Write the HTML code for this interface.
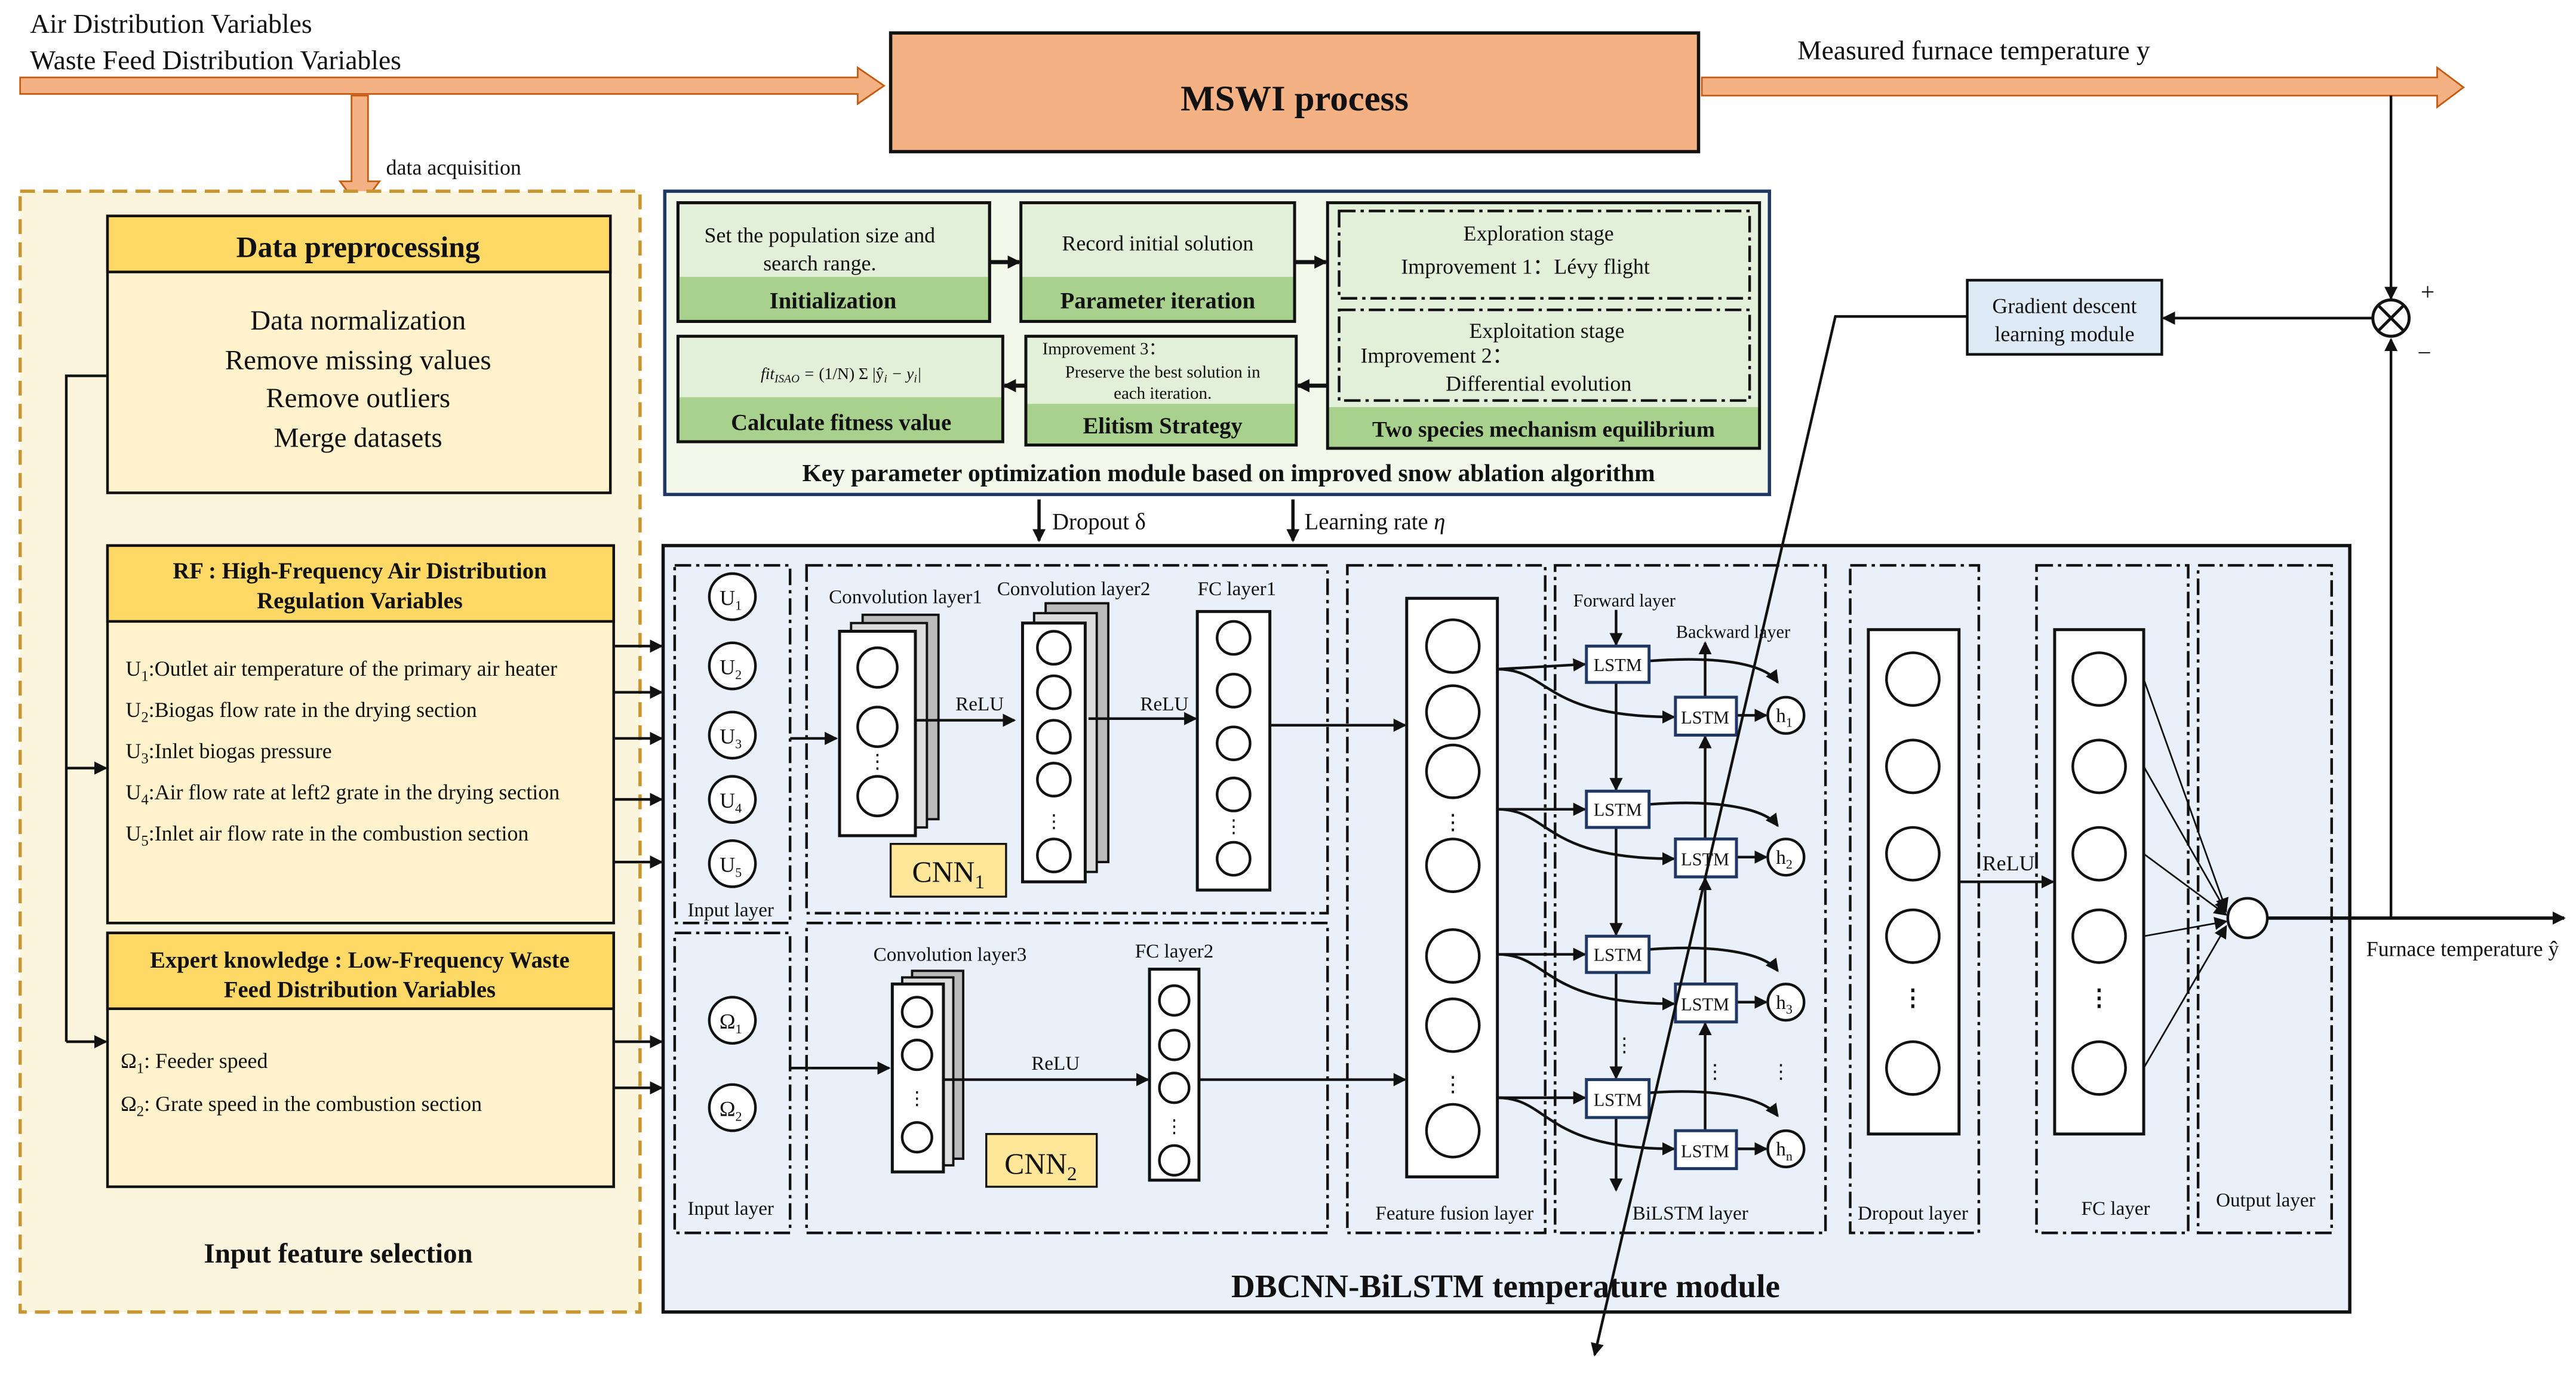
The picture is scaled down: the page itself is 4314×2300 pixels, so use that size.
<!DOCTYPE html>
<html><head><meta charset="utf-8"><style>
html,body{margin:0;padding:0;background:#fff;}
svg{display:block;}
text{font-family:"Liberation Serif",serif;fill:#111;}
.b{font-weight:bold;}
.dd{fill:none;stroke:#111;stroke-width:1.6;stroke-dasharray:10 3 2 3;}
.ln{stroke:#111;stroke-width:1.6;fill:none;}
.c{fill:#fff;stroke:#111;stroke-width:1.6;}
.ls{fill:#fff;stroke:#1f3864;stroke-width:1.8;}
</style></head><body>
<svg width="4314" height="2300" viewBox="0 0 1562 833" xmlns="http://www.w3.org/2000/svg">
<defs>
<marker id="a" markerWidth="8" markerHeight="8" refX="7" refY="4" orient="auto" markerUnits="userSpaceOnUse"><path d="M0,0 L8,4 L0,8 z" fill="#111"/></marker>
</defs>
<rect width="1562" height="833" fill="#fff"/>
<!-- top -->
<text x="18" y="20" font-size="16.5">Air Distribution Variables</text>
<text x="18" y="42" font-size="16.5">Waste Feed Distribution Variables</text>
<path d="M12,47 L520,47 L520,41 L536,52 L520,63 L520,57 L12,57 z" fill="#f4b183" stroke="#c55a11" stroke-width="1"/>
<rect x="540" y="20" width="490" height="72" fill="#f4b183" stroke="#111" stroke-width="2"/>
<text x="785" y="67" font-size="22" class="b" text-anchor="middle">MSWI process</text>
<path d="M1032,47 L1478,47 L1478,41 L1494,53 L1478,65 L1478,58 L1032,58 z" fill="#f4b183" stroke="#c55a11" stroke-width="1"/>
<text x="1090" y="36" font-size="16.5">Measured furnace temperature y</text>
<path d="M213,58 L223,58 L223,110 L230,110 L218,126 L206,110 L213,110 z" fill="#f4b183" stroke="#c55a11" stroke-width="1"/>
<text x="234" y="106" font-size="13">data acquisition</text>
<!-- left panel -->
<rect x="12" y="116" width="376" height="680" fill="#fbf5de" stroke="#c8952e" stroke-width="2" stroke-dasharray="9 5"/>
<rect x="65" y="131" width="305" height="168" fill="#fff2cc" stroke="#111" stroke-width="1.6"/>
<rect x="65" y="131" width="305" height="34" fill="#ffd966" stroke="#111" stroke-width="1.6"/>
<text x="217" y="156" font-size="18" class="b" text-anchor="middle">Data preprocessing</text>
<g font-size="17" text-anchor="middle"><text x="217" y="200">Data normalization</text><text x="217" y="224">Remove missing values</text><text x="217" y="247">Remove outliers</text><text x="217" y="271">Merge datasets</text></g>
<rect x="65" y="331" width="307" height="229" fill="#fff2cc" stroke="#111" stroke-width="1.6"/>
<rect x="65" y="331" width="307" height="46" fill="#ffd966" stroke="#111" stroke-width="1.6"/>
<text x="218" y="351" font-size="14" class="b" text-anchor="middle">RF : High-Frequency Air Distribution</text>
<text x="218" y="369" font-size="14" class="b" text-anchor="middle">Regulation Variables</text>
<g font-size="13"><text x="76" y="410">U<tspan font-size="9" dy="3">1</tspan><tspan dy="-3">:Outlet air temperature of the primary air heater</tspan></text>
<text x="76" y="435">U<tspan font-size="9" dy="3">2</tspan><tspan dy="-3">:Biogas flow rate in the drying section</tspan></text>
<text x="76" y="460">U<tspan font-size="9" dy="3">3</tspan><tspan dy="-3">:Inlet biogas pressure</tspan></text>
<text x="76" y="485">U<tspan font-size="9" dy="3">4</tspan><tspan dy="-3">:Air flow rate at left2 grate in the drying section</tspan></text>
<text x="76" y="510">U<tspan font-size="9" dy="3">5</tspan><tspan dy="-3">:Inlet air flow rate in the combustion section</tspan></text></g>
<rect x="65" y="566" width="307" height="154" fill="#fff2cc" stroke="#111" stroke-width="1.6"/>
<rect x="65" y="566" width="307" height="46" fill="#ffd966" stroke="#111" stroke-width="1.6"/>
<text x="218" y="587" font-size="14" class="b" text-anchor="middle">Expert knowledge : Low-Frequency Waste</text>
<text x="218" y="605" font-size="14" class="b" text-anchor="middle">Feed Distribution Variables</text>
<text x="73" y="648" font-size="13">Ω<tspan font-size="9" dy="3">1</tspan><tspan dy="-3">: Feeder speed</tspan></text>
<text x="73" y="674" font-size="13">Ω<tspan font-size="9" dy="3">2</tspan><tspan dy="-3">: Grate speed in the combustion section</tspan></text>
<text x="205" y="766" font-size="17" class="b" text-anchor="middle">Input feature selection</text>
<path class="ln" d="M65,228 L40,228 L40,632"/>
<line class="ln" x1="40" y1="466" x2="64" y2="466" marker-end="url(#a)"/>
<line class="ln" x1="40" y1="632" x2="64" y2="632" marker-end="url(#a)"/>
<g class="ln" marker-end="url(#a)">
<line x1="372" y1="392" x2="401" y2="392"/><line x1="372" y1="420" x2="401" y2="420"/><line x1="372" y1="448" x2="401" y2="448"/><line x1="372" y1="485" x2="401" y2="485"/><line x1="372" y1="523" x2="401" y2="523"/>
<line x1="372" y1="632" x2="401" y2="632"/><line x1="372" y1="660" x2="401" y2="660"/></g>
<!-- optimization -->
<rect x="403" y="116" width="670" height="184" fill="#f3f8ea" stroke="#1f3864" stroke-width="2"/>
<rect x="411" y="123" width="189" height="72" fill="#e2efd9" stroke="#111" stroke-width="1.8"/>
<rect x="411" y="168" width="189" height="27" fill="#a9d18e"/>
<rect x="411" y="123" width="189" height="72" fill="none" stroke="#111" stroke-width="1.8"/>
<text x="497" y="147" font-size="13" text-anchor="middle">Set the population size and</text>
<text x="497" y="164" font-size="13" text-anchor="middle">search range.</text>
<text x="505" y="187" font-size="14" class="b" text-anchor="middle">Initialization</text>
<rect x="619" y="123" width="166" height="72" fill="#e2efd9"/>
<rect x="619" y="168" width="166" height="27" fill="#a9d18e"/>
<rect x="619" y="123" width="166" height="72" fill="none" stroke="#111" stroke-width="1.8"/>
<text x="702" y="152" font-size="13" text-anchor="middle">Record initial solution</text>
<text x="702" y="187" font-size="14" class="b" text-anchor="middle">Parameter iteration</text>
<rect x="805" y="123" width="262" height="149" fill="#e2efd9"/>
<rect x="805" y="247" width="262" height="25" fill="#a9d18e"/>
<rect x="805" y="123" width="262" height="149" fill="none" stroke="#111" stroke-width="1.8"/>
<rect x="812" y="128" width="249" height="53" class="dd"/>
<rect x="812" y="188" width="249" height="55" class="dd"/>
<text x="933" y="146" font-size="13" text-anchor="middle">Exploration stage</text>
<text x="925" y="166" font-size="13" text-anchor="middle">Improvement 1：Lévy flight</text>
<text x="938" y="205" font-size="13" text-anchor="middle">Exploitation stage</text>
<text x="825" y="220" font-size="13">Improvement 2：</text>
<text x="933" y="237" font-size="13" text-anchor="middle">Differential evolution</text>
<text x="936" y="265" font-size="13.5" class="b" text-anchor="middle">Two species mechanism equilibrium</text>
<rect x="411" y="204" width="197" height="64" fill="#e2efd9"/>
<rect x="411" y="241" width="197" height="27" fill="#a9d18e"/>
<rect x="411" y="204" width="197" height="64" fill="none" stroke="#111" stroke-width="1.8"/>
<text x="510" y="230" font-size="10" text-anchor="middle" font-style="italic">fit<tspan font-size="7" dy="2">ISAO</tspan><tspan dy="-2"> = </tspan><tspan font-style="normal">(1/N) Σ |ŷ</tspan><tspan font-size="7" dy="2">i</tspan><tspan dy="-2"> − y</tspan><tspan font-size="7" dy="2">i</tspan><tspan dy="-2">|</tspan></text>
<text x="510" y="261" font-size="14" class="b" text-anchor="middle">Calculate fitness value</text>
<rect x="622" y="204" width="164" height="66" fill="#e2efd9"/>
<rect x="622" y="245" width="164" height="25" fill="#a9d18e"/>
<rect x="622" y="204" width="164" height="66" fill="none" stroke="#111" stroke-width="1.8"/>
<text x="632" y="215" font-size="10.5">Improvement 3：</text>
<text x="705" y="229" font-size="10.5" text-anchor="middle">Preserve the best solution in</text>
<text x="705" y="242" font-size="10.5" text-anchor="middle">each iteration.</text>
<text x="705" y="263" font-size="14" class="b" text-anchor="middle">Elitism Strategy</text>
<g stroke="#111" stroke-width="2.5" marker-end="url(#a)"><line x1="600" y1="159" x2="618" y2="159"/><line x1="785" y1="159" x2="804" y2="159"/><line x1="805" y1="234" x2="787" y2="234"/><line x1="622" y1="234" x2="609" y2="234"/></g>
<text x="745" y="292" font-size="15" class="b" text-anchor="middle">Key parameter optimization module based on improved snow ablation algorithm</text>
<g stroke="#111" stroke-width="2" marker-end="url(#a)"><line x1="630" y1="303" x2="630" y2="328"/><line x1="784" y1="303" x2="784" y2="328"/></g>
<text x="638" y="321" font-size="14">Dropout δ</text>
<text x="791" y="321" font-size="14">Learning rate <tspan font-style="italic">η</tspan></text>
<!-- DBCNN module -->
<rect x="402" y="331" width="1023" height="465" fill="#e9f0f9" stroke="#111" stroke-width="2"/>
<text x="913" y="787" font-size="20" class="b" text-anchor="middle">DBCNN-BiLSTM temperature module</text>
<rect x="409" y="343" width="70" height="217" class="dd"/>
<rect x="409" y="566" width="70" height="182" class="dd"/>
<rect x="489" y="343" width="316" height="211" class="dd"/>
<rect x="489" y="560" width="316" height="188" class="dd"/>
<rect x="817" y="343" width="120" height="405" class="dd"/>
<rect x="943" y="343" width="164" height="405" class="dd"/>
<rect x="1122" y="343" width="78" height="405" class="dd"/>
<rect x="1235" y="343" width="92" height="405" class="dd"/>
<rect x="1333" y="343" width="81" height="405" class="dd"/>
<!-- inputs -->
<g class="c"><circle cx="444" cy="362" r="14"/><circle cx="444" cy="404" r="14"/><circle cx="444" cy="446" r="14"/><circle cx="444" cy="485" r="14"/><circle cx="444" cy="524" r="14"/><circle cx="444" cy="619" r="14"/><circle cx="444" cy="672" r="14"/></g>
<g font-size="13" text-anchor="middle">
<text x="443" y="367">U<tspan font-size="8" dy="3">1</tspan></text><text x="443" y="409">U<tspan font-size="8" dy="3">2</tspan></text><text x="443" y="451">U<tspan font-size="8" dy="3">3</tspan></text><text x="443" y="490">U<tspan font-size="8" dy="3">4</tspan></text><text x="443" y="529">U<tspan font-size="8" dy="3">5</tspan></text>
<text x="443" y="624">Ω<tspan font-size="8" dy="3">1</tspan></text><text x="443" y="677">Ω<tspan font-size="8" dy="3">2</tspan></text></g>
<text x="443" y="556" font-size="12" text-anchor="middle">Input layer</text>
<text x="443" y="737" font-size="12" text-anchor="middle">Input layer</text>
<!-- CNN1 -->
<text x="549" y="366" font-size="12" text-anchor="middle">Convolution layer1</text>
<text x="651" y="361" font-size="12" text-anchor="middle">Convolution layer2</text>
<text x="750" y="361" font-size="12" text-anchor="middle">FC layer1</text>
<rect x="523" y="373" width="46" height="124" fill="#bbb" stroke="#111" stroke-width="1.4"/>
<rect x="516" y="378" width="46" height="124" fill="#ddd" stroke="#111" stroke-width="1.4"/>
<rect x="509" y="383" width="46" height="124" fill="#fff" stroke="#111" stroke-width="1.8"/>
<g class="c"><circle cx="532" cy="405" r="12"/><circle cx="532" cy="441" r="12"/><circle cx="532" cy="483" r="12"/></g>
<text x="532" y="466" font-size="12" text-anchor="middle">⋮</text>
<line class="ln" x1="479" y1="448" x2="507" y2="448" marker-end="url(#a)"/>
<line class="ln" x1="555" y1="437" x2="615" y2="437" marker-end="url(#a)"/>
<text x="594" y="431" font-size="12" text-anchor="middle">ReLU</text>
<rect x="634" y="366" width="38" height="157" fill="#bbb" stroke="#111" stroke-width="1.4"/>
<rect x="627" y="372" width="38" height="157" fill="#ddd" stroke="#111" stroke-width="1.4"/>
<rect x="620" y="378" width="38" height="157" fill="#fff" stroke="#111" stroke-width="1.8"/>
<g class="c"><circle cx="639" cy="393" r="10"/><circle cx="639" cy="420" r="10"/><circle cx="639" cy="447" r="10"/><circle cx="639" cy="473" r="10"/><circle cx="639" cy="519" r="10"/></g>
<text x="639" y="502" font-size="11" text-anchor="middle">⋮</text>
<line class="ln" x1="660" y1="436" x2="725" y2="436" marker-end="url(#a)"/>
<text x="706" y="431" font-size="12" text-anchor="middle">ReLU</text>
<rect x="726" y="371" width="44" height="169" fill="#fff" stroke="#111" stroke-width="1.8"/>
<g class="c"><circle cx="748" cy="387" r="10"/><circle cx="748" cy="419" r="10"/><circle cx="748" cy="451" r="10"/><circle cx="748" cy="482" r="10"/><circle cx="748" cy="521" r="10"/></g>
<text x="748" y="505" font-size="11" text-anchor="middle">⋮</text>
<rect x="540" y="512" width="70" height="32" fill="#ffe699" stroke="#111" stroke-width="1.2"/>
<text x="575" y="535" font-size="18" text-anchor="middle">CNN<tspan font-size="12" dy="4">1</tspan></text>
<line class="ln" x1="770" y1="440" x2="852" y2="440" marker-end="url(#a)"/>
<!-- CNN2 -->
<text x="576" y="583" font-size="12" text-anchor="middle">Convolution layer3</text>
<text x="712" y="581" font-size="12" text-anchor="middle">FC layer2</text>
<rect x="553" y="589" width="31" height="114" fill="#bbb" stroke="#111" stroke-width="1.4"/>
<rect x="547" y="593" width="31" height="114" fill="#ddd" stroke="#111" stroke-width="1.4"/>
<rect x="541" y="597" width="31" height="114" fill="#fff" stroke="#111" stroke-width="1.8"/>
<g class="c"><circle cx="556" cy="614" r="9"/><circle cx="556" cy="640" r="9"/><circle cx="556" cy="690" r="9"/></g>
<text x="556" y="670" font-size="11" text-anchor="middle">⋮</text>
<line class="ln" x1="479" y1="648" x2="539" y2="648" marker-end="url(#a)"/>
<line class="ln" x1="572" y1="655" x2="696" y2="655" marker-end="url(#a)"/>
<text x="640" y="649" font-size="12" text-anchor="middle">ReLU</text>
<rect x="697" y="588" width="30" height="128" fill="#fff" stroke="#111" stroke-width="1.8"/>
<g class="c"><circle cx="712" cy="607" r="9"/><circle cx="712" cy="634" r="9"/><circle cx="712" cy="660" r="9"/><circle cx="712" cy="704" r="9"/></g>
<text x="712" y="687" font-size="11" text-anchor="middle">⋮</text>
<rect x="598" y="688" width="67" height="32" fill="#ffe699" stroke="#111" stroke-width="1.2"/>
<text x="631" y="712" font-size="18" text-anchor="middle">CNN<tspan font-size="12" dy="4">2</tspan></text>
<line class="ln" x1="727" y1="655" x2="852" y2="655" marker-end="url(#a)"/>
<!-- fusion -->
<rect x="853" y="363" width="55" height="351" fill="#fff" stroke="#111" stroke-width="1.8"/>
<g class="c"><circle cx="881" cy="392" r="16"/><circle cx="881" cy="432" r="16"/><circle cx="881" cy="468" r="16"/><circle cx="881" cy="525" r="16"/><circle cx="881" cy="580" r="16"/><circle cx="881" cy="622" r="16"/><circle cx="881" cy="686" r="16"/></g>
<text x="881" y="503" font-size="13" text-anchor="middle">⋮</text><text x="881" y="662" font-size="13" text-anchor="middle">⋮</text>
<text x="882" y="740" font-size="12" text-anchor="middle">Feature fusion layer</text>
<!-- BiLSTM -->
<text x="985" y="368" font-size="11" text-anchor="middle">Forward layer</text>
<text x="1051" y="387" font-size="11" text-anchor="middle">Backward layer</text>
<text x="1025" y="740" font-size="12" text-anchor="middle">BiLSTM layer</text>
<g class="ln" marker-end="url(#a)">
<line x1="980" y1="370" x2="980" y2="391"/>
<line x1="980" y1="414" x2="980" y2="479"/><line x1="980" y1="502" x2="980" y2="567"/><line x1="980" y1="590" x2="980" y2="654"/><line x1="980" y1="678" x2="980" y2="722"/>
<line x1="1034" y1="686" x2="1034" y2="621"/><line x1="1034" y1="597" x2="1034" y2="533"/><line x1="1034" y1="509" x2="1034" y2="447"/><line x1="1034" y1="423" x2="1034" y2="390"/>
<line x1="908" y1="406" x2="961" y2="403"/><line x1="908" y1="491" x2="961" y2="491"/><line x1="908" y1="579" x2="961" y2="579"/><line x1="908" y1="666" x2="961" y2="666"/>
<path d="M908,406 C940,406 935,435 1015,435"/><path d="M908,491 C940,491 935,521 1015,521"/><path d="M908,579 C940,579 935,609 1015,609"/><path d="M908,666 C940,666 935,697 1015,697"/>
<path d="M1000,401 C1040,398 1070,402 1078,414"/><path d="M1000,488 C1040,485 1070,490 1078,501"/><path d="M1000,576 C1040,573 1070,578 1078,589"/><path d="M1000,663 C1040,660 1070,666 1078,677"/>
<line x1="1053" y1="434" x2="1071" y2="434"/><line x1="1053" y1="520" x2="1071" y2="520"/><line x1="1053" y1="608" x2="1071" y2="608"/><line x1="1053" y1="697" x2="1071" y2="697"/>
</g>
<g class="ls"><rect x="962" y="392" width="38" height="22"/><rect x="962" y="480" width="38" height="22"/><rect x="962" y="568" width="38" height="22"/><rect x="962" y="655" width="38" height="23"/>
<rect x="1016" y="423" width="37" height="23"/><rect x="1016" y="509" width="37" height="23"/><rect x="1016" y="597" width="37" height="23"/><rect x="1016" y="686" width="37" height="23"/></g>
<g font-size="11" text-anchor="middle"><text x="981" y="407">LSTM</text><text x="981" y="495">LSTM</text><text x="981" y="583">LSTM</text><text x="981" y="671">LSTM</text>
<text x="1034" y="439">LSTM</text><text x="1034" y="525">LSTM</text><text x="1034" y="613">LSTM</text><text x="1034" y="702">LSTM</text></g>
<g class="c"><circle cx="1083" cy="434" r="11"/><circle cx="1083" cy="520" r="11"/><circle cx="1083" cy="608" r="11"/><circle cx="1083" cy="697" r="11"/></g>
<g font-size="12" text-anchor="middle"><text x="1082" y="438">h<tspan font-size="8" dy="3">1</tspan></text><text x="1082" y="524">h<tspan font-size="8" dy="3">2</tspan></text><text x="1082" y="612">h<tspan font-size="8" dy="3">3</tspan></text><text x="1082" y="701">h<tspan font-size="8" dy="3">n</tspan></text></g>
<g font-size="12" text-anchor="middle"><text x="985" y="638">⋮</text><text x="1040" y="654">⋮</text><text x="1080" y="654">⋮</text></g>
<!-- dropout / FC -->
<rect x="1133" y="382" width="55" height="306" fill="#fff" stroke="#111" stroke-width="1.8"/>
<g class="c"><circle cx="1160" cy="412" r="16"/><circle cx="1160" cy="465" r="16"/><circle cx="1160" cy="518" r="16"/><circle cx="1160" cy="568" r="16"/><circle cx="1160" cy="648" r="16"/></g>
<text x="1160" y="610" font-size="14" class="b" text-anchor="middle">⋮</text>
<text x="1160" y="740" font-size="12" text-anchor="middle">Dropout layer</text>
<line class="ln" x1="1188" y1="535" x2="1245" y2="535" marker-end="url(#a)"/>
<text x="1218" y="528" font-size="13" text-anchor="middle">ReLU</text>
<rect x="1246" y="382" width="54" height="306" fill="#fff" stroke="#111" stroke-width="1.8"/>
<g class="c"><circle cx="1273" cy="412" r="16"/><circle cx="1273" cy="465" r="16"/><circle cx="1273" cy="518" r="16"/><circle cx="1273" cy="568" r="16"/><circle cx="1273" cy="648" r="16"/></g>
<text x="1273" y="610" font-size="14" class="b" text-anchor="middle">⋮</text>
<text x="1283" y="737" font-size="12" text-anchor="middle">FC layer</text>
<text x="1374" y="732" font-size="12" text-anchor="middle">Output layer</text>
<g stroke="#111" stroke-width="1" marker-end="url(#a)"><line x1="1300" y1="412" x2="1350" y2="552"/><line x1="1300" y1="465" x2="1350" y2="553"/><line x1="1300" y1="518" x2="1350" y2="555"/><line x1="1300" y1="568" x2="1350" y2="559"/><line x1="1300" y1="648" x2="1350" y2="562"/></g>
<circle class="c" cx="1363" cy="557" r="12"/>
<line stroke="#111" stroke-width="2" x1="1375" y1="557" x2="1555" y2="557" marker-end="url(#a)"/>
<text x="1435" y="580" font-size="13">Furnace temperature ŷ</text>
<!-- feedback -->
<line class="ln" x1="1450" y1="557" x2="1450" y2="206" marker-end="url(#a)"/>
<line class="ln" x1="1450" y1="58" x2="1450" y2="181" marker-end="url(#a)"/>
<circle cx="1450" cy="193" r="11" fill="#fff" stroke="#111" stroke-width="1.8"/>
<path d="M1442,185 L1458,201 M1458,185 L1442,201" stroke="#111" stroke-width="1.8"/>
<text x="1468" y="182" font-size="15">+</text><text x="1466" y="219" font-size="15">−</text>
<line class="ln" x1="1439" y1="193" x2="1312" y2="193" marker-end="url(#a)"/>
<rect x="1193" y="170" width="118" height="45" fill="#deebf7" stroke="#111" stroke-width="1.6"/>
<text x="1252" y="190" font-size="13" text-anchor="middle">Gradient descent</text>
<text x="1252" y="207" font-size="13" text-anchor="middle">learning module</text>
<path class="ln" d="M1193,192 L1113,192 L967,822" marker-end="url(#a)"/>
</svg>
</body></html>
